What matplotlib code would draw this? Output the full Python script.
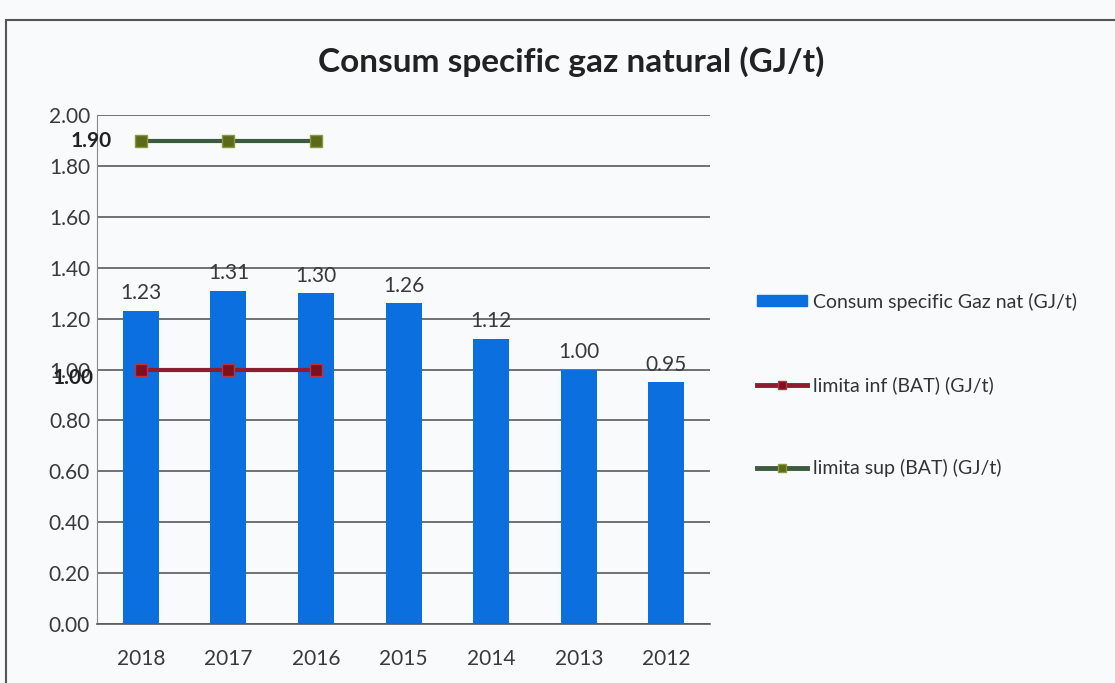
"""
Consum specific gaz natural - bar chart with BAT limits.
"""

import numpy as np
from matplotlib import pyplot as plt
from matplotlib.patches import Rectangle
from matplotlib.lines import Line2D

years = ['2018', '2017', '2016', '2015', '2014', '2013', '2012']
consum = [1.23, 1.31, 1.30, 1.26, 1.12, 1.00, 0.95]
limita_inf = [1.00, 1.00, 1.00, np.nan, np.nan, np.nan, np.nan]
limita_sup = [1.90, 1.90, 1.90, np.nan, np.nan, np.nan, np.nan]
y_ticks = [0.0, 0.2, 0.4, 0.6, 0.8, 1.0, 1.2, 1.4, 1.6, 1.8, 2.0]

plt.rcParams['font.family'] = ['Lato', 'DejaVu Sans']

bar_color = '#0b6fe0'
inf_color = '#8c1c30'
sup_color = '#3b5a3e'
text_color = '#3a3a3a'

fig = plt.figure(figsize=(11.15, 6.83), dpi=100)
fig.patch.set_facecolor('#f8fafc')
ax = fig.add_axes([0.087, 0.0864, 0.55, 0.745])
ax.set_facecolor('#f8fafc')

# outer chart frame
fig.patches.append(Rectangle((0.005, -0.05), 1.1, 1.02, transform=fig.transFigure,
                             fill=False, edgecolor='#555555', linewidth=1.5))

x = np.arange(len(years))
ax.bar(x, consum, width=0.41, color=bar_color, zorder=2)
for xi, v in zip(x, consum):
    ax.text(xi, v + 0.03, f'{v:.2f}', ha='center', va='bottom', fontsize=15, color=text_color)

ax.plot(x, limita_inf, color=inf_color, linewidth=3, marker='s', markersize=8,
        markerfacecolor='#7a1020', markeredgecolor='#c03040', zorder=3)
ax.plot(x, limita_sup, color=sup_color, linewidth=3, marker='s', markersize=8,
        markerfacecolor='#5a6a1a', markeredgecolor='#8a9a3a', zorder=3)
ax.text(x[0] - 0.33, limita_sup[0], f'{limita_sup[0]:.2f}', ha='right', va='center',
        fontsize=15, fontweight='bold', color='#222222')
# the reference puts this label right on top of the 1.00 tick label
ax.text(x[0] - 0.54, limita_inf[0] - 0.035, f'{limita_inf[0]:.2f}', ha='right', va='center',
        fontsize=15, fontweight='bold', color='#222222', clip_on=False)

ax.set_xlim(-0.5, len(years) - 0.5)
ax.set_ylim(0, 2.0)
ax.set_yticks(y_ticks)
ax.set_yticklabels([f'{t:.2f}' for t in y_ticks])
ax.set_xticks(x)
ax.set_xticklabels(years)
ax.tick_params(axis='both', labelsize=15, colors=text_color, length=0)
ax.tick_params(axis='x', pad=18)
ax.tick_params(axis='y', pad=5)
ax.grid(axis='y', color='#5a5a5a', linewidth=1.2, zorder=0)
ax.set_axisbelow(True)
for side in ['top', 'right']:
    ax.spines[side].set_visible(False)
ax.spines['left'].set_color('#8a8a8a')
ax.spines['bottom'].set_color('#5a5a5a')
ax.spines['bottom'].set_linewidth(1.2)

fig.text(0.512, 0.91, 'Consum specific gaz natural (GJ/t)', ha='center', va='center',
         fontsize=24, fontweight='bold', color='#222222')

handles = [
    Rectangle((0, 0), 1, 1, color=bar_color),
    Line2D([], [], color=inf_color, linewidth=3.5, marker='s', markersize=6,
           markerfacecolor='#7a1020', markeredgecolor='#c03040'),
    Line2D([], [], color=sup_color, linewidth=3.5, marker='s', markersize=6,
           markerfacecolor='#5a6a1a', markeredgecolor='#8a9a3a'),
]
labels = ['Consum specific Gaz nat (GJ/t)', 'limita inf (BAT) (GJ/t)', 'limita sup (BAT) (GJ/t)']
fig.legend(handles, labels, loc='center left', bbox_to_anchor=(0.663, 0.4363), frameon=False,
           fontsize=14, labelcolor='#333333', labelspacing=3.36, handlelength=2.6,
           handletextpad=0.3, handleheight=0.5)

fig.savefig('out.png', dpi=100, facecolor=fig.get_facecolor())
